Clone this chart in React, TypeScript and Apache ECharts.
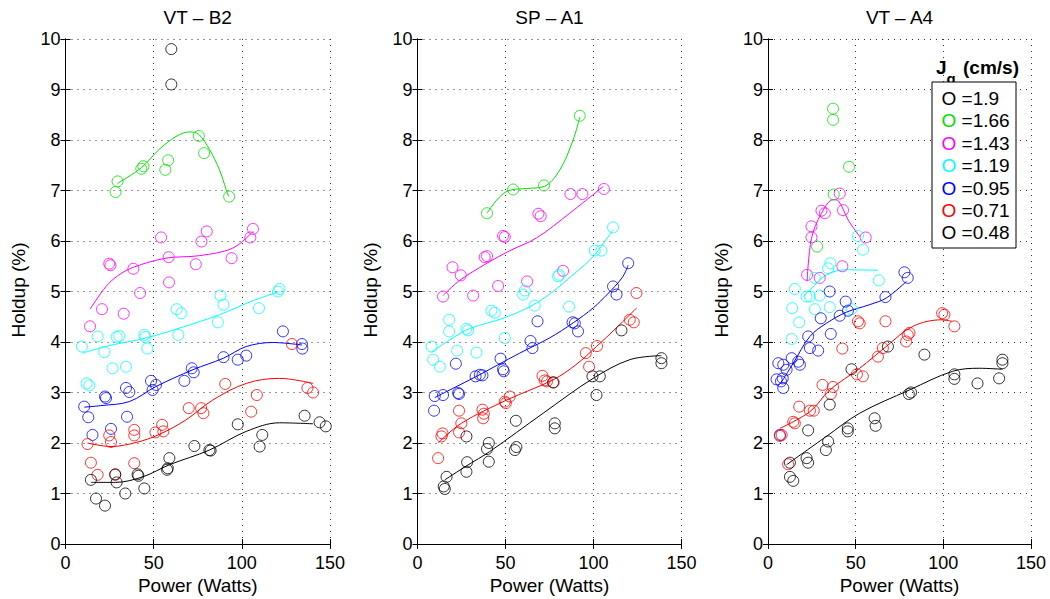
import React, { useEffect, useRef } from 'react';
import * as echarts from 'echarts';

const FONT = 'Liberation Sans, Arial, Helvetica, sans-serif';

const xTicks = [0, 50, 100, 150];
const panelTitles = ['VT – B2', 'SP – A1', 'VT – A4'];
const xAxisTitle = 'Power (Watts)';
const yAxisTitle = 'Holdup (%)';
const legendTitle = ['J', 'g', '(cm/s)'];
const jgLabels = ['1.9', '1.66', '1.43', '1.19', '0.95', '0.71', '0.48'];
const seriesColors = ['#000000', '#00e000', '#ff00ff', '#00ffff', '#0000ff', '#ff0000', '#000000'];

// ---------- Panel 1: VT – B2 ----------
const b2_190 = [[60, 9.8], [60, 9.1]];
const b2_166 = [[29.5, 7.18], [28.4, 6.97], [43, 7.43], [44.2, 7.48], [58.2, 7.6], [56.6, 7.41], [75.6, 8.08], [78.6, 7.74], [92.8, 6.88]];
const b2_143 = [[54.2, 6.07], [80.1, 6.19], [77.1, 5.99], [106.3, 6.24], [104.8, 6.07], [24.8, 5.55], [25.5, 5.52], [38.5, 5.45], [58.5, 5.68], [73.9, 5.54], [94.2, 5.66], [58.7, 5.18], [42.3, 4.97], [20.7, 4.65], [33, 4.56], [13.9, 4.31]];
const b2_119 = [[121.4, 5.05], [120.5, 5.0], [87.9, 4.92], [89.6, 4.74], [109.7, 4.67], [63.1, 4.65], [65.7, 4.57], [86.4, 4.39], [18.2, 4.11], [29, 4.1], [30.5, 4.12], [44.7, 4.14], [45.3, 4.1], [64, 4.14], [9.3, 3.91], [22, 3.8], [46.4, 3.87], [26.7, 3.48], [34.3, 3.51], [12, 3.18], [13.5, 3.14]];
const b2_095 = [[123.3, 4.21], [134.1, 3.96], [134.3, 3.87], [89.6, 3.7], [97.7, 3.65], [102.5, 3.73], [71.6, 3.48], [72.7, 3.4], [67.4, 3.23], [48.5, 3.23], [51.3, 3.15], [49.4, 3.05], [34.3, 3.09], [36.2, 3.01], [22.4, 2.92], [23, 2.89], [10.6, 2.72], [12.9, 2.51], [34.9, 2.52], [25.8, 2.28], [15.3, 2.16]];
const b2_071 = [[128.4, 3.96], [137.2, 3.09], [140.4, 3.0], [90.6, 3.17], [108.5, 2.95], [105.3, 2.62], [69.9, 2.69], [76.9, 2.69], [78.2, 2.59], [54.8, 2.36], [55.5, 2.23], [51, 2.21], [39, 2.26], [39, 2.15], [24.8, 2.15], [25.8, 2.02], [12.5, 1.98], [14.4, 1.61], [18.2, 1.37], [39, 1.6], [28.2, 1.37]];
const b2_048 = [[135.6, 2.54], [144.1, 2.41], [147.6, 2.33], [97.7, 2.37], [111.6, 2.16], [110.1, 1.93], [73.1, 1.94], [81.6, 1.86], [82.3, 1.85], [58.9, 1.7], [58, 1.5], [57.6, 1.47], [40.9, 1.38], [41.3, 1.35], [28.2, 1.38], [29, 1.22], [14.4, 1.27], [44.7, 1.1], [33.9, 1.0], [17.3, 0.9], [22.4, 0.76]];

const b2_166_fit = [[29.5, 7.14], [43, 7.45], [53, 7.81], [62.7, 8.07], [70.3, 8.16], [75.6, 8.11], [81.7, 7.81], [87.3, 7.41], [91.1, 7.02], [92.5, 6.88]];
const b2_143_fit = [[13.9, 4.65], [23, 5.1], [30, 5.32], [38.5, 5.48], [57, 5.66], [76, 5.71], [94.9, 5.86], [106.4, 6.19]];
const b2_119_fit = [[9.7, 3.78], [25, 3.93], [45.7, 4.08], [65, 4.28], [87.3, 4.54], [105, 4.8], [121.4, 5.0]];
const b2_095_fit = [[10.6, 2.71], [20, 2.74], [36.2, 2.82], [51.4, 3.12], [72.2, 3.45], [89.6, 3.68], [102.5, 3.91], [117.6, 3.99], [134.2, 3.94]];
const b2_071_fit = [[12.5, 2.0], [25.8, 1.93], [40, 2.01], [53.2, 2.17], [68.4, 2.46], [83.5, 2.85], [102.5, 3.18], [121.4, 3.28], [140.4, 3.18]];
const b2_048_fit = [[14.4, 1.22], [28.2, 1.22], [43.8, 1.33], [59, 1.57], [81.6, 1.86], [102.5, 2.23], [121.4, 2.4], [140.4, 2.38]];

// ---------- Panel 2: SP – A1 ----------
const a1_166 = [[39.5, 6.55], [54.3, 7.02], [71.9, 7.1], [92.2, 8.48]];
const a1_143 = [[86.9, 6.93], [93.7, 6.93], [105.9, 7.03], [68.7, 6.54], [70, 6.49], [48.6, 6.1], [49.6, 6.08], [38.2, 5.68], [39.5, 5.7], [19.9, 5.48], [24.6, 5.32], [45.8, 5.11], [62.3, 5.2], [82.7, 5.41], [14.5, 4.9], [31.6, 4.92]];
const a1_119 = [[111.1, 6.27], [100.7, 5.81], [104.5, 5.81], [79.9, 5.3], [80.5, 5.33], [60, 4.94], [61, 5.02], [66.6, 4.72], [86.1, 4.7], [42, 4.62], [43.9, 4.58], [18, 4.44], [18, 4.21], [27.8, 4.26], [28.8, 4.23], [49.6, 4.08], [8, 3.91], [22.5, 3.83], [33.5, 3.79], [8.9, 3.65], [12.7, 3.51]];
const a1_095 = [[119.7, 5.56], [111.1, 5.1], [113.1, 4.94], [88.1, 4.39], [89.4, 4.37], [91.2, 4.21], [68.2, 4.41], [64.2, 4.02], [65.3, 3.88], [47.2, 3.67], [48.6, 3.46], [49, 3.42], [21.8, 3.57], [33, 3.32], [35.4, 3.35], [36.9, 3.34], [23.1, 2.99], [23.6, 2.97], [9.8, 2.93], [14.5, 2.95], [9.4, 2.64]];
const a1_071 = [[124.4, 4.97], [120.6, 4.44], [122.9, 4.39], [102, 3.92], [95.6, 3.78], [97.5, 3.51], [71, 3.33], [72.3, 3.24], [73.6, 3.22], [77.4, 3.2], [52.4, 2.92], [49.6, 2.82], [50.2, 2.79], [36.9, 2.66], [37.7, 2.58], [37.3, 2.49], [23.6, 2.64], [24.9, 2.39], [23.6, 2.21], [14.2, 2.19], [13.6, 2.13], [11.7, 1.7]];
const a1_048 = [[138.6, 3.68], [138.6, 3.58], [115.9, 4.23], [99.4, 3.32], [103.6, 3.32], [101.7, 2.95], [77, 3.2], [78, 2.39], [78, 2.29], [55.9, 2.44], [55.3, 1.86], [56.2, 1.92], [40.5, 2.0], [39.5, 1.88], [40.5, 1.63], [27.8, 2.13], [28.2, 1.62], [27.8, 1.43], [16.5, 1.33], [14.9, 1.14], [15.5, 1.09]];

const a1_166_fit = [[39.5, 6.55], [46, 6.85], [52, 7.0], [62, 7.04], [72, 7.08], [80.9, 7.41], [88.4, 8.0], [92.2, 8.45]];
const a1_143_fit = [[14.5, 4.92], [24, 5.22], [39, 5.55], [52, 5.8], [67.6, 6.06], [86.5, 6.55], [105.5, 7.08]];
const a1_119_fit = [[8, 3.8], [20, 4.08], [30, 4.27], [48.6, 4.47], [65, 4.72], [77, 5.0], [90, 5.38], [100, 5.7], [111.1, 6.22]];
const a1_095_fit = [[9.8, 2.9], [20, 3.08], [33, 3.31], [58.1, 3.78], [75, 4.08], [88.5, 4.38], [100, 4.68], [108, 4.95], [112.1, 5.1], [116.8, 5.3], [119.7, 5.52]];
const a1_071_fit = [[11.7, 2.0], [24.9, 2.39], [50.6, 2.85], [77, 3.25], [90, 3.55], [101.7, 3.91], [113, 4.28], [124.4, 4.67]];
const a1_048_fit = [[15.5, 1.27], [28, 1.55], [41, 1.83], [71.4, 2.59], [99.8, 3.28], [120.6, 3.65], [138.6, 3.73]];

// ---------- Panel 3: VT – A4 ----------
const a4_166 = [[37.1, 8.62], [37.1, 8.4], [46.2, 7.47], [37.5, 6.92], [28, 5.89]];
const a4_143 = [[40.9, 6.94], [30.5, 6.6], [32.4, 6.55], [42.8, 6.61], [24.8, 6.29], [24.8, 6.07], [55.7, 6.07], [22.3, 5.33], [29.5, 5.27], [42.4, 5.5]];
const a4_119 = [[51.3, 6.1], [54.2, 5.83], [35.6, 5.56], [34.3, 5.46], [26.7, 5.27], [15.3, 5.05], [63.2, 5.22], [22, 4.9], [23.9, 4.9], [29.5, 4.92], [13.8, 4.67], [26.7, 4.65], [35.2, 4.69], [47.6, 4.65], [17.8, 4.39], [13.5, 4.06]];
const a4_095 = [[77.8, 5.38], [79.7, 5.27], [67, 4.89], [44.3, 4.8], [45.6, 4.62], [35.2, 5.0], [40.9, 4.52], [30.1, 4.47], [35.8, 4.16], [22.9, 4.11], [23.9, 3.88], [28.6, 3.83], [13.5, 3.68], [18.2, 3.55], [17.2, 3.61], [5.9, 3.58], [8.7, 3.55], [10.6, 3.45], [4.9, 3.26], [8.4, 3.28], [7.4, 3.22], [8.7, 3.09], [6.8, 2.16]];
const a4_071 = [[99.3, 4.57], [100.6, 4.54], [106.3, 4.31], [67, 4.41], [51.3, 4.41], [52.3, 4.37], [79.7, 4.14], [80.7, 4.18], [78.8, 4.01], [65.5, 3.88], [62.7, 3.71], [42.4, 3.87], [50.7, 3.36], [54.1, 3.32], [31.1, 3.15], [37.1, 3.11], [35.8, 2.97], [17.8, 2.72], [23.9, 2.64], [26.1, 2.64], [14.4, 2.42], [15.3, 2.39], [6.8, 2.14], [7.8, 2.16], [11.5, 1.58]];
const a4_048 = [[133.7, 3.65], [133.7, 3.58], [131.8, 3.28], [119.5, 3.18], [106.3, 3.36], [106.3, 3.27], [89.2, 3.75], [80.3, 2.97], [81.6, 3.0], [68.4, 3.91], [60.8, 2.49], [61.4, 2.34], [47.6, 3.46], [45.5, 2.29], [45.5, 2.23], [35.2, 2.76], [34.3, 2.03], [33, 1.86], [22.9, 2.25], [22, 1.7], [22.9, 1.61], [12.5, 1.61], [12.5, 1.33], [14.4, 1.25]];

const a4_143_fit = [[22.3, 5.2], [24.8, 6.05], [30.5, 6.55], [37.3, 6.82], [40, 6.8], [46, 6.4], [52.3, 6.09]];
const a4_119_fit = [[20, 4.9], [23.9, 5.03], [33.3, 5.33], [44.7, 5.43], [62.7, 5.42]];
const a4_095_fit = [[7.4, 3.19], [14.4, 3.58], [23.9, 4.11], [33.3, 4.37], [44.7, 4.59], [58, 4.74], [67.4, 4.87], [79, 5.2]];
const a4_071_fit = [[6.8, 2.29], [23.9, 2.62], [35.2, 3.05], [52.3, 3.48], [67.4, 3.91], [82.6, 4.31], [99.3, 4.44], [104.9, 4.41]];
const a4_048_fit = [[10.6, 1.57], [33.3, 2.13], [52.3, 2.59], [80.7, 3.05], [105.3, 3.42], [120.5, 3.48], [133.7, 3.46]];

const panelPoints = [
  [b2_190, b2_166, b2_143, b2_119, b2_095, b2_071, b2_048],
  [[], a1_166, a1_143, a1_119, a1_095, a1_071, a1_048],
  [[], a4_166, a4_143, a4_119, a4_095, a4_071, a4_048],
];
const panelFits = [
  [null, b2_166_fit, b2_143_fit, b2_119_fit, b2_095_fit, b2_071_fit, b2_048_fit],
  [null, a1_166_fit, a1_143_fit, a1_119_fit, a1_095_fit, a1_071_fit, a1_048_fit],
  [null, null, a4_143_fit, a4_119_fit, a4_095_fit, a4_071_fit, a4_048_fit],
];

// layout (pixels)
const gridLefts = [65.5, 417.5, 768];
const gridWidths = [264.5, 264, 263];
const GRID_TOP = 39;
const GRID_H = 505;

function buildOption() {
  const grid: any[] = [];
  const xAxis: any[] = [];
  const yAxis: any[] = [];
  const series: any[] = [];
  const graphic: any[] = [];
  const axisLine = { show: true, lineStyle: { color: '#000', width: 1 } };
  const tick = { show: true, inside: true, length: 5, lineStyle: { color: '#000', width: 1 } };

  for (let i = 0; i < 3; i++) {
    grid.push({ left: gridLefts[i], top: GRID_TOP, width: gridWidths[i], height: GRID_H, show: false });
    xAxis.push({
      type: 'value', gridIndex: i, position: 'bottom', min: 0, max: 150, interval: 50,
      axisLine, axisTick: tick,
      axisLabel: { show: true, color: '#000', fontSize: 18, fontFamily: FONT, margin: 10,
        formatter: (v: number) => (xTicks.includes(v) ? String(v) : '') },
      splitLine: { show: true, lineStyle: { color: '#333', width: 1, type: [1, 5] } },
    });
    xAxis.push({
      type: 'value', gridIndex: i, position: 'top', min: 0, max: 150, interval: 50,
      axisLine, axisTick: tick, axisLabel: { show: false }, splitLine: { show: false },
    });
    yAxis.push({
      type: 'value', gridIndex: i, position: 'left', min: 0, max: 10, interval: 1,
      axisLine, axisTick: tick,
      axisLabel: { show: true, color: '#000', fontSize: 18, fontFamily: FONT, margin: 5 },
      splitLine: { show: true, lineStyle: { color: '#333', width: 1, type: [1, 5] } },
    });
    yAxis.push({
      type: 'value', gridIndex: i, position: 'right', min: 0, max: 10, interval: 1,
      axisLine, axisTick: tick, axisLabel: { show: false }, splitLine: { show: false },
    });

    panelPoints[i].forEach((pts, j) => {
      if (!pts.length) return;
      series.push({
        type: 'scatter', xAxisIndex: i * 2, yAxisIndex: i * 2, data: pts,
        symbol: 'circle', symbolSize: 11, silent: true,
        itemStyle: { color: 'rgba(0,0,0,0)', borderColor: seriesColors[j], borderWidth: 1 },
        emphasis: { disabled: true }, z: 3,
      });
    });
    panelFits[i].forEach((f, j) => {
      if (!f) return;
      series.push({
        type: 'line', xAxisIndex: i * 2, yAxisIndex: i * 2, data: f, smooth: 0.35,
        showSymbol: false, symbol: 'none', silent: true,
        lineStyle: { color: seriesColors[j], width: 1 }, z: 2,
      });
    });

    const cx = gridLefts[i] + gridWidths[i] / 2;
    graphic.push({ type: 'text', x: cx, y: 17, z: 50,
      style: { text: panelTitles[i], font: `19px ${FONT}`, fill: '#000', align: 'center', verticalAlign: 'middle' } });
    graphic.push({ type: 'text', x: cx, y: 585, z: 50,
      style: { text: xAxisTitle, font: `19px ${FONT}`, fill: '#000', align: 'center', verticalAlign: 'middle' } });
    graphic.push({ type: 'text', x: gridLefts[i] - 47, y: 290, rotation: Math.PI / 2, z: 50,
      style: { text: yAxisTitle, font: `19px ${FONT}`, fill: '#000', align: 'center', verticalAlign: 'middle' } });
  }

  // Legend (panel 3)
  graphic.push({ type: 'text', x: 936, y: 67, z: 100,
    style: { text: legendTitle[0], font: `bold 19px ${FONT}`, fill: '#000', align: 'left', verticalAlign: 'middle' } });
  graphic.push({ type: 'text', x: 946.5, y: 78, z: 100,
    style: { text: legendTitle[1], font: `bold 15px ${FONT}`, fill: '#000', align: 'left', verticalAlign: 'middle' } });
  graphic.push({ type: 'text', x: 963, y: 67, z: 100,
    style: { text: legendTitle[2], font: `bold 19px ${FONT}`, fill: '#000', align: 'left', verticalAlign: 'middle' } });
  graphic.push({ type: 'rect', z: 101, shape: { x: 932, y: 82, width: 84, height: 166 },
    style: { fill: '#fff', stroke: '#000', lineWidth: 1 } });
  jgLabels.forEach((lab, k) => {
    graphic.push({ type: 'text', x: 941.5, y: 98.5 + k * 22.4, z: 102,
      style: {
        text: `{o|O}{t| =${lab}}`, verticalAlign: 'middle', align: 'left',
        rich: {
          o: { fill: seriesColors[k], font: `19px ${FONT}` },
          t: { fill: '#000', font: `19px ${FONT}` },
        },
      } });
  });

  return {
    animation: false,
    backgroundColor: '#fff',
    grid, xAxis, yAxis, series, graphic,
  };
}

export default function App() {
  const ref = useRef<HTMLDivElement>(null);
  useEffect(() => {
    if (!ref.current) return;
    const chart = echarts.init(ref.current, null, { renderer: 'svg' });
    chart.setOption(buildOption() as any);
    return () => chart.dispose();
  }, []);
  return <div ref={ref} style={{ position: 'absolute', left: 0, top: 0, width: 1050, height: 599 }} />;
}
